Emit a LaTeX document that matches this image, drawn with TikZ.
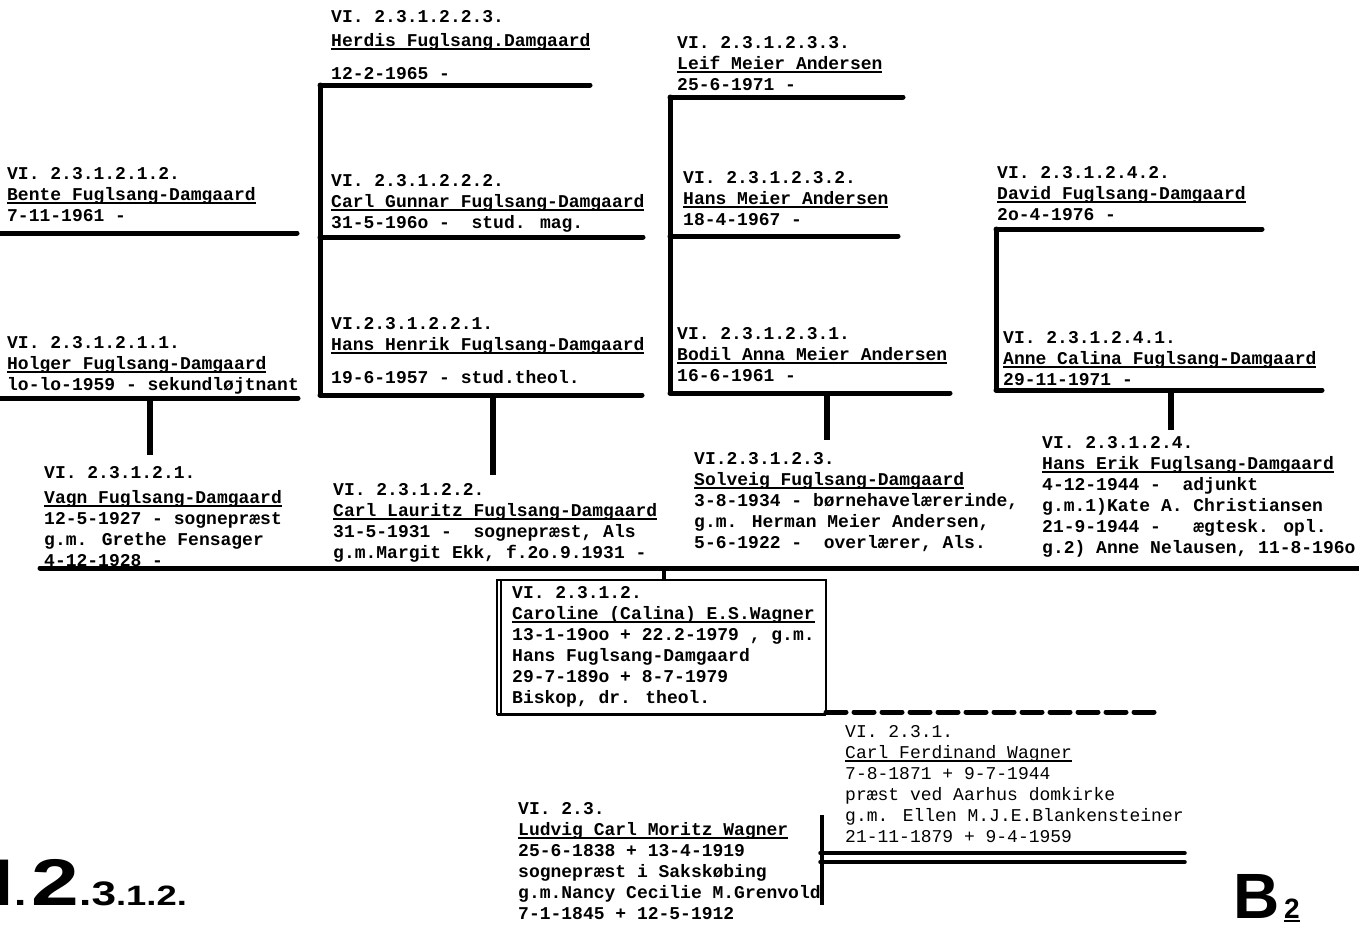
\documentclass[tikz,border=0pt]{standalone}
\usepackage{fontspec}
\usepackage{graphicx}
\newfontfamily\typefont{Liberation Mono}
\newfontfamily\labelfont{Liberation Sans}
\newcommand\uname[1]{\setbox0\hbox{#1}\leavevmode\rlap{\rule[-4pt]{\wd0}{1.6pt}}\box0}
\begin{document}
\begin{tikzpicture}[x=1pt,y=-1pt,
  person/.style={anchor=base west, align=left, inner sep=0pt,
    font=\typefont\bfseries\fontsize{18}{21}\selectfont},
  faint/.style={font=\typefont\fontsize{18}{21}\selectfont},
  bar/.style={line width=5pt, line cap=round},
  stem/.style={line width=6pt},
  frame/.style={line width=1.5pt}]
\useasboundingbox (0,0) rectangle (1359,926);

\node[person] (herdis) at (331,79) {VI. 2.3.1.2.2.3.\\[3pt]\uname{Herdis Fuglsang.Damgaard}\\[12pt]12-2-1965 -};
\node[person] (carlgunnar) at (331,228) {VI. 2.3.1.2.2.2.\\\uname{Carl Gunnar Fuglsang-Damgaard}\\31-5-196o -~~stud. mag.};
\node[person] (hanshenrik) at (331,383) {VI.2.3.1.2.2.1.\\\uname{Hans Henrik Fuglsang-Damgaard}\\[12pt]19-6-1957 - stud.theol.};
\node[person] (bente) at (7,221) {VI. 2.3.1.2.1.2.\\\uname{Bente Fuglsang-Damgaard}\\7-11-1961 -};
\node[person] (holger) at (7,390) {VI. 2.3.1.2.1.1.\\\uname{Holger Fuglsang-Damgaard}\\lo-lo-1959 - sekundløjtnant};
\node[person] (leif) at (677,90) {VI. 2.3.1.2.3.3.\\\uname{Leif Meier Andersen}\\25-6-1971 -};
\node[person] (hansmeier) at (683,225) {VI. 2.3.1.2.3.2.\\\uname{Hans Meier Andersen}\\18-4-1967 -};
\node[person] (bodil) at (677,381) {VI. 2.3.1.2.3.1.\\\uname{Bodil Anna Meier Andersen}\\16-6-1961 -};
\node[person] (david) at (997,220) {VI. 2.3.1.2.4.2.\\\uname{David Fuglsang-Damgaard}\\2o-4-1976 -};
\node[person] (annecalina) at (1003,385) {VI. 2.3.1.2.4.1.\\\uname{Anne Calina Fuglsang-Damgaard}\\29-11-1971 -};

\node[person] (vagn) at (44,566) {VI. 2.3.1.2.1.\\[4pt]\uname{Vagn Fuglsang-Damgaard}\\12-5-1927 - sognepræst\\g.m. Grethe Fensager\\4-12-1928 -};
\node[person] (carllauritz) at (333,558) {VI. 2.3.1.2.2.\\\uname{Carl Lauritz Fuglsang-Damgaard}\\31-5-1931 -~~sognepræst, Als\\g.m.Margit Ekk, f.2o.9.1931 -};
\node[person] (solveig) at (694,548) {VI.2.3.1.2.3.\\\uname{Solveig Fuglsang-Damgaard}\\3-8-1934 - børnehavelærerinde,\\g.m. Herman Meier Andersen,\\5-6-1922 -~~overlærer, Als.};
\node[person] (hanserik) at (1042,553) {VI. 2.3.1.2.4.\\\uname{Hans Erik Fuglsang-Damgaard}\\4-12-1944 -~~adjunkt\\g.m.1)Kate A. Christiansen\\21-9-1944 -~~~ægtesk. opl.\\g.2) Anne Nelausen, 11-8-196o};

\node[person] (caroline) at (512,703) {VI. 2.3.1.2.\\\uname{Caroline (Calina) E.S.Wagner}\\13-1-19oo + 22.2-1979 , g.m.\\Hans Fuglsang-Damgaard\\29-7-189o + 8-7-1979\\Biskop, dr. theol.};
\node[person, faint] (carlferdinand) at (845,842) {VI. 2.3.1.\\\uname{Carl Ferdinand Wagner}\\7-8-1871 + 9-7-1944\\præst ved Aarhus domkirke\\g.m. Ellen M.J.E.Blankensteiner\\21-11-1879 + 9-4-1959};
\node[person] (ludvig) at (518,919) {VI. 2.3.\\\uname{Ludvig Carl Moritz Wagner}\\25-6-1838 + 13-4-1919\\sognepræst i Sakskøbing\\g.m.Nancy Cecilie M.Grenvold\\7-1-1845 + 12-5-1912};

\node[anchor=base west, inner sep=0pt] (sheet) at (-10,905) {\labelfont\bfseries\scalebox{1.3}[1]{\fontsize{66}{66}\selectfont I\fontsize{34}{34}\selectfont.\kern4pt\fontsize{66}{66}\selectfont 2\fontsize{34}{34}\selectfont.3\fontsize{28}{28}\selectfont.1.2.}};
\node[anchor=base west, inner sep=0pt] (sheetcode) at (1233,918) {\labelfont\bfseries\fontsize{64}{64}\selectfont B\fontsize{28}{28}\selectfont\,\uname{2}};

\coordinate (herdis bar) at (320,85);
\coordinate (carlgunnar bar) at (320,237);
\coordinate (hanshenrik bar) at (320,395);
\draw[bar] (herdis bar) -- ++(270,0);
\draw[bar] (carlgunnar bar) -- ++(323,0);
\draw[bar] (hanshenrik bar) -- ++(322,0);
\draw[bar] (herdis bar) -- (hanshenrik bar);

\coordinate (bente bar) at (0,233);
\coordinate (holger bar) at (0,398);
\draw[bar] (bente bar) -- ++(297,0);
\draw[bar] (holger bar) -- ++(298,0);

\coordinate (leif bar) at (670,97);
\coordinate (hansmeier bar) at (670,236);
\coordinate (bodil bar) at (670,393);
\draw[bar] (leif bar) -- ++(233,0);
\draw[bar] (hansmeier bar) -- ++(228,0);
\draw[bar] (bodil bar) -- ++(280,0);
\draw[bar] (leif bar) -- (bodil bar);

\coordinate (david bar) at (996,229);
\coordinate (annecalina bar) at (996,390);
\draw[bar] (david bar) -- ++(266,0);
\draw[bar] (annecalina bar) -- ++(326,0);
\draw[bar] (david bar) -- (annecalina bar);

\coordinate (vagn top) at (150,455);
\coordinate (carllauritz top) at (493,475);
\coordinate (solveig top) at (827,440);
\coordinate (hanserik top) at (1171,430);
\draw[stem] (holger bar -| vagn top) -- (vagn top);
\draw[stem] (hanshenrik bar -| carllauritz top) -- (carllauritz top);
\draw[stem] (bodil bar -| solveig top) -- (solveig top);
\draw[stem] (annecalina bar -| hanserik top) -- (hanserik top);

\coordinate (sibling bar) at (40,568);
\coordinate (box top) at (664,580);
\coordinate (box nw) at (497,580);
\coordinate (box se) at (826,714);
\draw[bar] (sibling bar) -- (1362,568);
\draw[line width=4pt] (sibling bar -| box top) -- (box top);
\draw[frame] (box nw) rectangle (box se);
\draw[frame] ([xshift=4pt]box nw) -- ([xshift=4pt]box nw |- box se);
\draw[line width=3pt] (box nw |- box se) -- (box se);
\draw[bar, dash pattern=on 20pt off 8pt] ([yshift=2pt]box se) -- ++(334,0);

\coordinate (ludvig top) at (822,815);
\coordinate (ludvig foot) at (822,905);
\coordinate (wagner line) at (820,853);
\draw[line width=4pt] (ludvig top) -- (ludvig foot);
\draw[line width=3.5pt, line cap=round] (wagner line) -- ++(365,0);
\draw[line width=3.5pt, line cap=round] ([yshift=-9pt]wagner line) -- ++(365,0);
\end{tikzpicture}
\end{document}
